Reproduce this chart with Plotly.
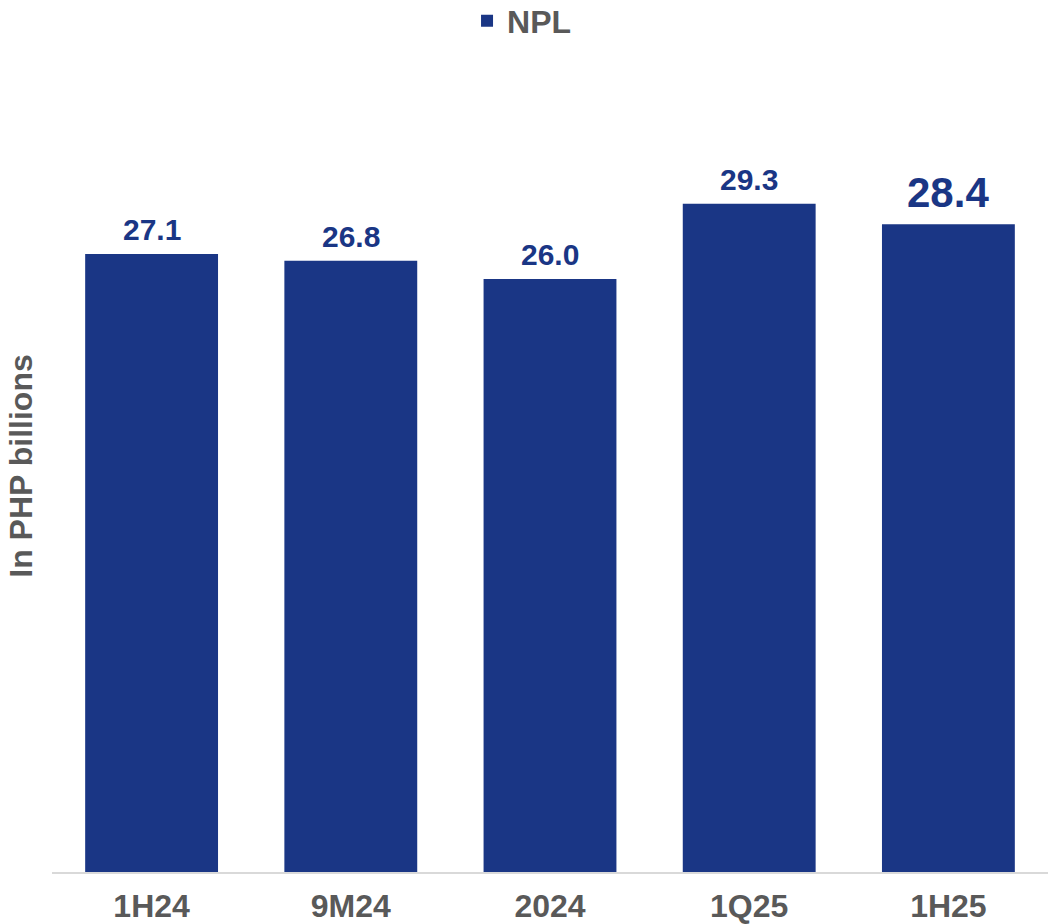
import plotly.graph_objects as go

categories = ["1H24", "9M24", "2024", "1Q25", "1H25"]
npl_values = [27.1, 26.8, 26.0, 29.3, 28.4]
label_texts = ["27.1", "26.8", "26.0", "29.3", "28.4"]
label_sizes = [30, 30, 30, 30, 42]

BAR = "#1a3685"
GRAY = "#595959"
FONT = "Liberation Sans, Arial, sans-serif"

fig = go.Figure()
fig.add_trace(go.Bar(
    x=categories, y=npl_values, name="<b>NPL</b>",
    marker=dict(color=BAR, line=dict(width=0)),
))

for i, (v, t, s) in enumerate(zip(npl_values, label_texts, label_sizes)):
    fig.add_annotation(
        x=i, y=v, text=f"<b>{t}</b>", showarrow=False,
        yanchor="bottom", yshift=6,
        font=dict(family=FONT, size=s, color=BAR),
    )

fig.update_layout(
    width=1048, height=924,
    margin=dict(l=52, r=0, t=60, b=52, autoexpand=False),
    paper_bgcolor="white", plot_bgcolor="white",
    bargap=0.333,
    showlegend=True,
    legend=dict(
        orientation="h", x=0.4167, xanchor="left", y=1.082, yanchor="top",
        yref="paper", font=dict(family=FONT, size=32, color=GRAY),
    ),
    font=dict(family=FONT, color=GRAY),
    xaxis=dict(
        type="category", range=[-0.5, 4.5], automargin=False,
        showline=True, linecolor="#d9d9d9", linewidth=2,
        ticks="", showgrid=False, ticklabelstandoff=5,
        tickfont=dict(family=FONT, size=32, color=GRAY),
        tickprefix="<b>", ticksuffix="</b>",
    ),
    yaxis=dict(
        range=[0, 35.6], showticklabels=False, showgrid=False,
        zeroline=False, showline=False, ticks="",
        title=dict(text="<b>In PHP billions</b>", standoff=8,
                   font=dict(family=FONT, size=32, color=GRAY)),
    ),
)

fig.write_html("out.html")
